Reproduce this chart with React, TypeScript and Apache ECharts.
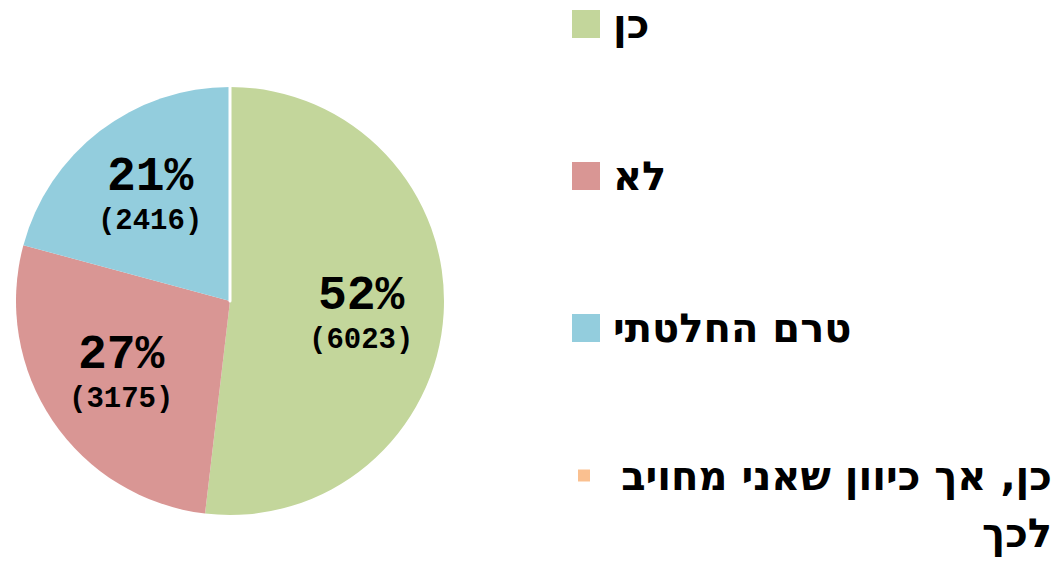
import React, { useEffect, useRef } from "react";
import * as echarts from "echarts";

const categories = ["כן", "לא", "טרם החלטתי", "כן, אך כיוון שאני מחויב לכך"];
const values = [6023, 3175, 2416, 0];
const colors = ["#C3D69B", "#D99694", "#93CDDD", "#FAC090"];

const CX = 230;
const CY = 301;
const R = 214;
const LEGEND_FONT = "'DejaVu Sans', 'Liberation Sans', Arial, sans-serif";
const LABEL_FONT = "'Liberation Mono', 'Courier New', monospace";
const LAST_LH = 57;

export default function App() {
  const ref = useRef<HTMLDivElement>(null);
  useEffect(() => {
    if (!ref.current) return;
    const chart = echarts.init(ref.current, null, { renderer: "svg" });
    const data = categories.map((name, i) => ({
      name,
      value: values[i],
      itemStyle:
        values[i] === 0
          ? { color: colors[i], borderColor: "#ffffff", borderWidth: 3 }
          : { color: colors[i] },
    }));
    const labelData = categories.map((name, i) => ({
      name,
      value: values[i],
      label: values[i] === 0 ? { show: false } : i === 0 ? { offset: [0, 7] } : undefined,
    }));
    const lastName = categories[3];
    const words = lastName.split(" ");
    const line2 = words[words.length - 1];
    const line1 = words.slice(0, -1).join(" ");
    chart.setOption({
      animation: false,
      backgroundColor: "#ffffff",
      legend: [
        {
          orient: "vertical",
          left: 572,
          top: 0,
          padding: 0,
          itemWidth: 28,
          itemHeight: 28,
          itemGap: 104,
          icon: "rect",
          selectedMode: false,
          data: categories.slice(0, 3),
          textStyle: {
            fontSize: 40,
            fontWeight: "bold",
            fontFamily: LEGEND_FONT,
            color: "#000000",
            lineHeight: 48,
            padding: [0, 0, 0, 8],
          },
        },
        {
          orient: "vertical",
          left: 576,
          top: 484 - 1.5 * LAST_LH,
          padding: 0,
          itemWidth: 14,
          itemHeight: 14,
          icon: "rect",
          selectedMode: false,
          data: [lastName],
          formatter: () => `{e| }\n{t|${line1}}\n{t|${line2}}`,
          textStyle: {
            color: "#000000",
            padding: [0, 0, 0, 16],
            rich: {
              e: { fontSize: 40, lineHeight: LAST_LH, fontFamily: LEGEND_FONT },
              t: {
                fontSize: 40,
                fontWeight: "bold",
                fontFamily: LEGEND_FONT,
                color: "#000000",
                lineHeight: LAST_LH,
                width: 440,
                align: "right",
              },
            },
          },
        },
      ],
      series: [
        {
          type: "pie",
          center: [CX, CY],
          radius: [0, R],
          startAngle: 90,
          clockwise: true,
          silent: true,
          label: { show: false },
          labelLine: { show: false },
          data,
        },
        {
          type: "pie",
          center: [CX, CY],
          radius: [R * 0.2, R],
          startAngle: 90,
          clockwise: true,
          silent: true,
          percentPrecision: 0,
          itemStyle: { color: "rgba(0,0,0,0)" },
          labelLine: { show: false },
          label: {
            show: true,
            position: "inside",
            formatter: "{p|{d}%}\n{v|({c})}",
            rich: {
              p: {
                fontFamily: LABEL_FONT,
                fontWeight: "bold",
                fontSize: 48,
                lineHeight: 50,
                color: "#000000",
              },
              v: {
                fontFamily: LABEL_FONT,
                fontWeight: "bold",
                fontSize: 29,
                lineHeight: 40,
                color: "#000000",
              },
            },
          },
          data: labelData,
        },
      ],
    });
    return () => chart.dispose();
  }, []);
  return (
    <div
      ref={ref}
      style={{ position: "fixed", left: 0, top: 0, width: 1053, height: 561 }}
    />
  );
}
